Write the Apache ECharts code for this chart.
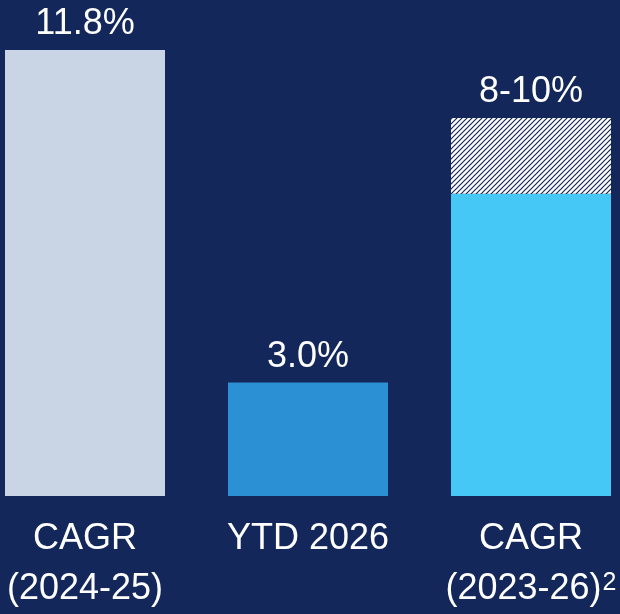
<!DOCTYPE html>
<html>
<head>
<meta charset="utf-8">
<script src="https://cdn.jsdelivr.net/npm/echarts@6/dist/echarts.min.js"></script>
<style>
  html, body { margin: 0; padding: 0; background: #13275a; }
  #chart { width: 620px; height: 614px; }
</style>
</head>
<body>
<div id="chart"></div>
<script>
var categories = ['CAGR\n(2024-25)', 'YTD 2026', 'CAGR\n(2023-26){sup|2}'];
var baseValues = [11.8, 3.0, 8.0];
var rangeValues = ['-', '-', 2.0];
var valueLabels = ['11.8%', '3.0%', '8-10%'];
var barColors = ['#c9d5e4', '#2b90d4', '#45c8f5'];

var bg = '#13275a';
var font = 'Liberation Sans, Arial, sans-serif';

// hatch pattern for the range part
function makeHatch() {
  var c = document.createElement('canvas');
  c.width = 5; c.height = 5;
  var ctx = c.getContext('2d');
  ctx.fillStyle = '#ffffff';
  ctx.fillRect(0, 0, 5, 5);
  ctx.strokeStyle = bg;
  ctx.lineWidth = 1.2;
  ctx.beginPath();
  ctx.moveTo(-1, 6); ctx.lineTo(6, -1);
  ctx.moveTo(-1, 1); ctx.lineTo(1, -1);
  ctx.moveTo(4, 6); ctx.lineTo(6, 4);
  ctx.stroke();
  return c;
}

var chart = echarts.init(document.getElementById('chart'));

var option = {
  backgroundColor: bg,
  animation: false,
  grid: { left: 85, right: 89, top: 50, bottom: 113 },
  xAxis: {
    type: 'category',
    data: categories,
    boundaryGap: false,
    axisLine: { show: false },
    axisTick: { show: false },
    axisLabel: {
      color: '#ffffff',
      fontFamily: font,
      fontSize: 36,
      lineHeight: 50,
      margin: 18,
      interval: 0,
      rich: {
        sup: { fontSize: 25, color: '#ffffff', verticalAlign: 'top', lineHeight: 28,
               padding: [7, 0, 0, 1], fontFamily: font }
      }
    }
  },
  yAxis: {
    type: 'value',
    min: 0,
    max: 11.8,
    show: false,
    splitLine: { show: false }
  },
  series: [
    {
      type: 'bar',
      stack: 'g',
      barWidth: 160,
      clip: false,
      data: baseValues.map(function (v, i) {
        return {
          value: v,
          itemStyle: { color: barColors[i] },
          label: { show: i < 2, formatter: valueLabels[i] }
        };
      }),
      label: {
        position: 'top',
        distance: 8,
        color: '#ffffff',
        fontSize: 36,
        fontFamily: font
      }
    },
    {
      type: 'bar',
      stack: 'g',
      barWidth: 160,
      clip: false,
      data: rangeValues,
      itemStyle: { color: { image: makeHatch(), repeat: 'repeat' } },
      label: {
        show: true,
        position: 'top',
        distance: 8,
        color: '#ffffff',
        fontSize: 36,
        fontFamily: font,
        formatter: function (p) { return valueLabels[p.dataIndex]; }
      }
    }
  ]
};

chart.setOption(option);
</script>
</body>
</html>
